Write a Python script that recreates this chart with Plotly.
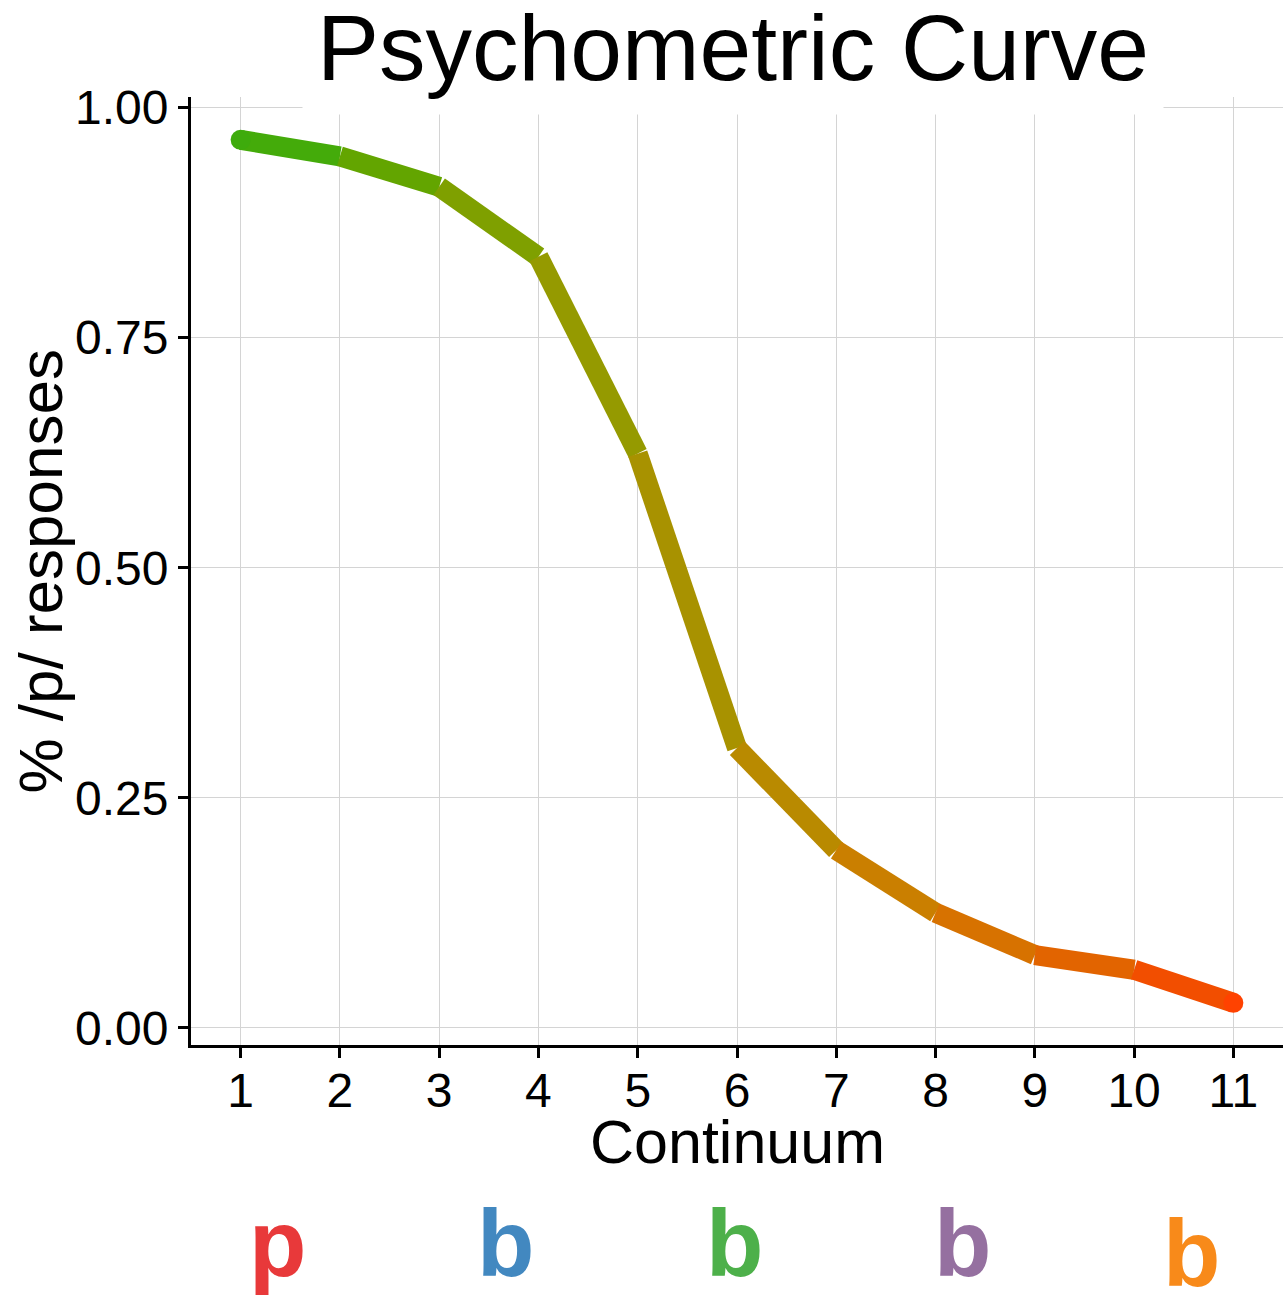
import plotly.graph_objects as go

# values
continuum = [1, 2, 3, 4, 5, 6, 7, 8, 9, 10, 11]
p_responses = [0.965, 0.947, 0.914, 0.838, 0.624, 0.304, 0.193, 0.125, 0.079, 0.063, 0.027]
seg_colors = ["#44ab0a", "#63a500", "#7fa000", "#959a00", "#a89200",
              "#b98a00", "#ca7f00", "#d77200", "#e26400", "#f24e00"]
cap_colors = ["#3eab0c", "#ff4200"]
y_ticks = [0, 0.25, 0.5, 0.75, 1.0]
y_ticklabels = ["0.00", "0.25", "0.50", "0.75", "1.00"]
sounds = ["p", "b", "b", "b", "b"]
sound_colors = ["#e8393a", "#4288c0", "#4db04a", "#9570a0", "#f88a1a"]

FONT = "Liberation Sans, Arial, Helvetica, sans-serif"
LW = 20

fig = go.Figure()

# one trace per segment so each gets its own colour
for i in range(len(continuum) - 1):
    fig.add_trace(go.Scatter(
        x=continuum[i:i + 2], y=p_responses[i:i + 2],
        mode="lines", line=dict(color=seg_colors[i], width=LW),
        hoverinfo="skip", showlegend=False))

# round ends
fig.add_trace(go.Scatter(
    x=[continuum[0], continuum[-1]], y=[p_responses[0], p_responses[-1]],
    mode="markers", marker=dict(color=cap_colors, size=LW, line=dict(width=0)),
    hoverinfo="skip", showlegend=False))

axis_common = dict(
    showline=True, linecolor="black", linewidth=3,
    ticks="outside", ticklen=10, tickwidth=3, tickcolor="black",
    showgrid=True, gridcolor="#d4d4d4", gridwidth=1, zeroline=False,
    automargin=False,
)

fig.update_xaxes(range=[0.5, 11.5], tickvals=continuum, ticklabelstandoff=-9,
                 tickfont=dict(family=FONT, size=48, color="black"), **axis_common)
fig.update_yaxes(range=[-0.0188, 1.0116], tickvals=y_ticks, ticktext=y_ticklabels,
                 tickfont=dict(family=FONT, size=48, color="black"), **axis_common)

annotations = [
    dict(text="Psychometric Curve", x=0.4963, y=0.981, xref="paper", yref="paper",
         xanchor="center", yanchor="bottom", showarrow=False,
         bgcolor="white", borderpad=14,
         font=dict(family=FONT, size=93, color="black")),
    dict(text="Continuum", x=0.5, y=-0.1018, xref="paper", yref="paper",
         xanchor="center", yanchor="middle", showarrow=False,
         font=dict(family=FONT, size=61, color="black")),
    dict(text="% /p/ responses", x=-0.1387, y=0.5, xref="paper", yref="paper",
         xanchor="center", yanchor="middle", showarrow=False, textangle=-90,
         font=dict(family=FONT, size=62, color="black")),
]

for i, (s, c) in enumerate(zip(sounds, sound_colors)):
    annotations.append(dict(
        text="<b>%s</b>" % s, x=0.079 + 0.2093 * i, y=-0.2094,
        xref="paper", yref="paper", xanchor="center", yanchor="middle",
        showarrow=False, yshift=-10 if i == len(sounds) - 1 else 0,
        font=dict(family=FONT, size=94, color=c)))

fig.update_layout(
    width=1283, height=1295, autosize=False,
    margin=dict(l=191, r=0, t=97, b=250),
    paper_bgcolor="white", plot_bgcolor="white",
    annotations=annotations,
)

# drop the browser's default body margin so the figure sits at the page corner
fig.write_html("out.html", config={"displayModeBar": False},
               post_script="document.body.style.margin='0';document.body.style.overflow='hidden';")
